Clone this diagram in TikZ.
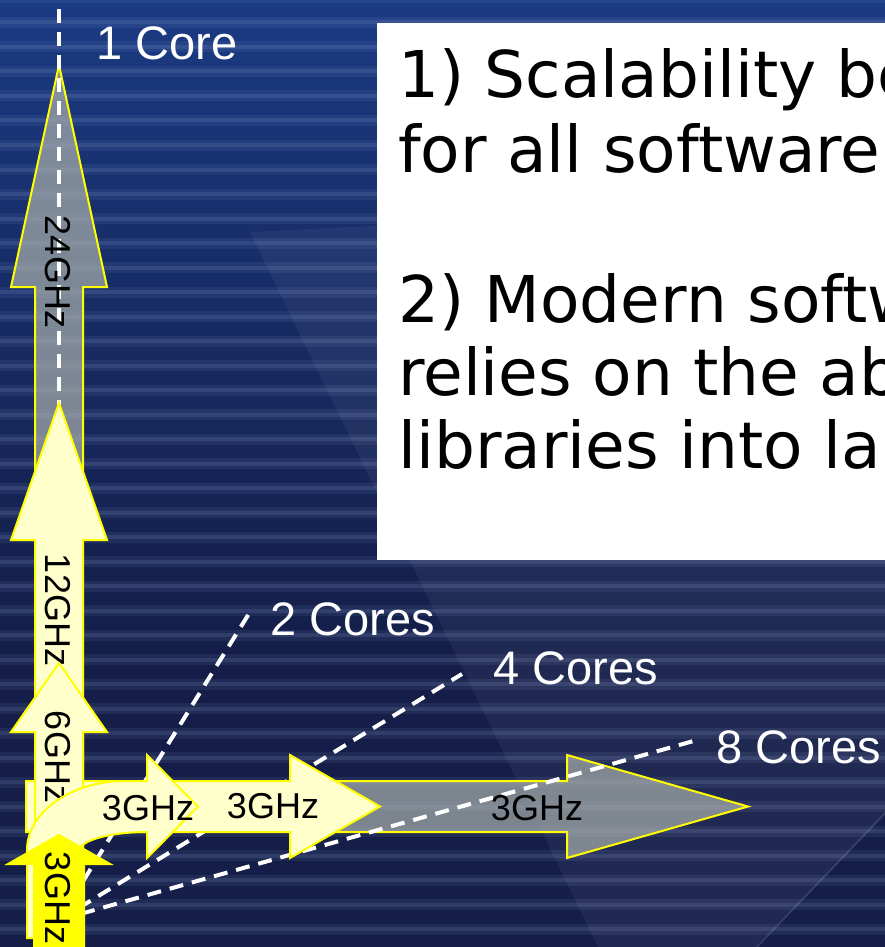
\documentclass[tikz,border=0pt]{standalone}
\usepackage{fontspec}
\setmainfont{Liberation Sans}
\newfontfamily\boxfont{DejaVu Sans}

\definecolor{bgtop}{RGB}{42,98,188}
\definecolor{bgupper}{RGB}{30,70,155}
\definecolor{bgmid}{RGB}{24,48,110}
\definecolor{bgdeep}{RGB}{20,30,72}
\definecolor{streakc}{RGB}{140,160,210}
\definecolor{paleyellow}{RGB}{255,255,204}
\definecolor{arrowedge}{RGB}{255,255,0}
\definecolor{greyfill}{RGB}{165,172,170}

\pgfdeclareverticalshading{bgshade}{100bp}{%
  color(0bp)=(bgdeep); color(40bp)=(bgdeep); color(65bp)=(bgmid);
  color(85bp)=(bgupper); color(100bp)=(bgtop)}

\tikzset{
  lightarrow/.style={fill=paleyellow, draw=arrowedge, line width=2pt},
  greyarrow/.style={fill=greyfill, fill opacity=0.72, draw=arrowedge, line width=2pt},
  brightarrow/.style={fill=arrowedge, draw=arrowedge, line width=2pt},
  corelink/.style={draw=white, line width=4pt, dash pattern=on 14pt off 9pt},
  corelabel/.style={text=white, font=\fontsize{47}{50}\selectfont, inner sep=0pt, anchor=base west},
  ghz/.style={text=black, font=\fontsize{36}{40}\selectfont, inner sep=0pt},
  vghz/.style={ghz, rotate=-90},
  boxline/.style={text=black, font=\boxfont\fontsize{64.5}{70}\selectfont, inner sep=0pt, anchor=base west},
  streakwide/.style={draw=streakc, line width=11pt, draw opacity=0.10},
  streak/.style={draw=streakc, line width=4pt, draw opacity=0.16}
}

% upward block arrow: style, tip y, head base y, bottom y
\newcommand\vertarrow[4]{%
  \path[#1] (35,#4) -- (35,#3) -- (11,#3) -- (59,#2) -- (107,#3)
    -- (83,#3) -- (83,#4) -- cycle;}
% rightward block arrow: style, start x, head base x, tip x
\newcommand\horzarrow[4]{%
  \path[#1] (#2,781) -- (#3,781) -- (#3,755) -- (#4,806.5) -- (#3,858)
    -- (#3,832) -- (#2,832) -- cycle;}

\begin{document}
\begin{tikzpicture}[x=1pt, y=-1pt]
  \useasboundingbox (0,0) rectangle (885,947);
  \clip (0,0) rectangle (885,947);

  % backdrop
  \shade[shading=bgshade] (0,0) rectangle (885,947);
  \foreach \k in {0,...,39}{
    \path[streakwide] (0,{24.5*\k-2}) -- (885,{24.5*\k-2});
    \path[streak] (0,{24.5*\k-2}) -- (885,{24.5*\k-2});
  }
  \fill[white, fill opacity=0.05] (250,232) -- (900,200) -- (900,800)
    -- (757,947) -- (598,947) -- cycle;
  \draw[white, draw opacity=0.12, line width=1.5pt] (885,813) -- (757,947);

  % text panel
  \fill[white] (377,23) rectangle (900,560);
  \node[boxline] (l1) at (398,98)  {1) Scalability be};
  \node[boxline] (l2) at (398,172) {for all software};
  \node[boxline] (l3) at (398,322) {2) Modern softw};
  \node[boxline] (l4) at (398,395) {relies on the ab};
  \node[boxline] (l5) at (398,468) {libraries into lar};

  % grey (unrealised) arrows
  \vertarrow{greyarrow}{65}{287}{520}
  \horzarrow{greyarrow}{300}{567}{748}

  % core directions
  \coordinate (o)  at (59,920);
  \coordinate (c1) at (59,8);
  \coordinate (c2) at (250,612);
  \coordinate (c4) at (462,674);
  \coordinate (c8) at (697,740);
  \path[corelink] (o) -- (c1);
  \path[corelink] (o) -- (c2);
  \path[corelink] (o) -- (c4);
  \path[corelink] (o) -- (c8);

  \node[vghz] (g24) at (58,272) {24GHz};
  \node[ghz]  (gh3) at (537,808) {3GHz};

  % pale arrows
  \horzarrow{lightarrow}{26}{290}{380}
  \node[ghz] (gh2) at (273,806) {3GHz};
  \vertarrow{lightarrow}{403}{540}{938}
  \node[vghz] (g12) at (58,610) {12GHz};
  \vertarrow{lightarrow}{663}{732}{938}
  \node[vghz] (g6) at (58,757) {6GHz};

  % bent arrow from vertical to horizontal
  \path[lightarrow] (27,938) -- (27,850)
    .. controls (27,812.4) and (70.9,781) .. (125,781)
    -- (147,781) -- (147,755) -- (198,806.5) -- (147,858) -- (147,832)
    .. controls (110,832) and (80,840.6) .. (80,850)
    -- (80,938) -- cycle;
  \node[ghz] (gh1) at (148,808) {3GHz};

  % present-day arrow
  \path[brightarrow] (34,960) -- (34,864) -- (8,864) -- (59,835)
    -- (110,864) -- (84,864) -- (84,960) -- cycle;
  \node[vghz] (g3) at (58,898) {3GHz};

  % core labels
  \node[corelabel] (k1) at (96,60)  {1 Core};
  \node[corelabel] (k2) at (270,635) {2 Cores};
  \node[corelabel] (k4) at (493,684) {4 Cores};
  \node[corelabel] (k8) at (716,763) {8 Cores};
\end{tikzpicture}
\end{document}
